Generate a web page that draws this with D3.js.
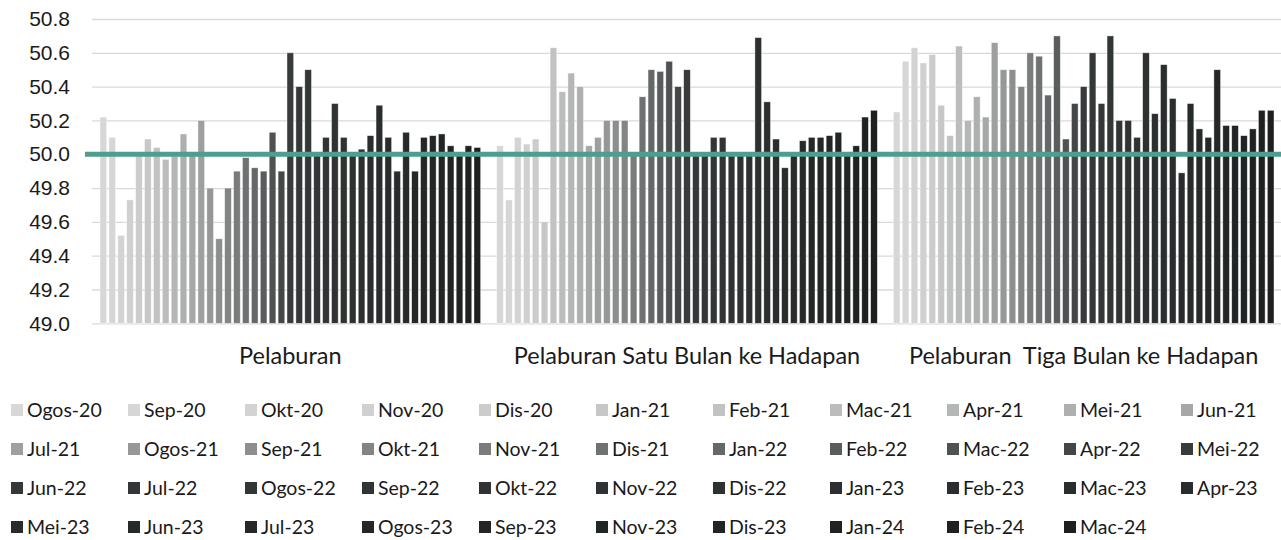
<!DOCTYPE html>
<html>
<head>
<meta charset="utf-8">
<script src="https://cdn.jsdelivr.net/npm/d3@7"></script>
<style>
  body { margin: 0; background: #fff; }
  svg { display: block; }
  .tick text { font-family: "Liberation Sans", Arial, sans-serif; }
</style>
</head>
<body>
<div id="chart"></div>
<script>
var categories = ["Pelaburan", "Pelaburan Satu Bulan ke Hadapan", "Pelaburan  Tiga Bulan ke Hadapan"];

var months = ["Ogos-20","Sep-20","Okt-20","Nov-20","Dis-20","Jan-21","Feb-21","Mac-21","Apr-21","Mei-21","Jun-21",
  "Jul-21","Ogos-21","Sep-21","Okt-21","Nov-21","Dis-21","Jan-22","Feb-22","Mac-22","Apr-22","Mei-22",
  "Jun-22","Jul-22","Ogos-22","Sep-22","Okt-22","Nov-22","Dis-22","Jan-23","Feb-23","Mac-23","Apr-23",
  "Mei-23","Jun-23","Jul-23","Ogos-23","Sep-23","Nov-23","Dis-23","Jan-24","Feb-24","Mac-24"];

// one value per month, for each category
var pelaburan = [50.22,50.10,49.52,49.73,50.01,50.09,50.04,49.97,49.99,50.12,50.01,
  50.20,49.80,49.50,49.80,49.90,49.98,49.92,49.90,50.13,49.90,50.60,
  50.40,50.50,50.01,50.10,50.30,50.10,50.01,50.03,50.11,50.29,50.10,
  49.90,50.13,49.90,50.10,50.11,50.12,50.05,50.01,50.05,50.04];

var satuBulan = [50.05,49.73,50.10,50.06,50.09,49.60,50.63,50.37,50.48,50.40,50.05,
  50.10,50.20,50.20,50.20,50.01,50.34,50.50,50.49,50.55,50.40,50.50,
  50.01,50.01,50.10,50.10,50.01,50.01,50.01,50.69,50.31,50.09,49.92,
  50.01,50.08,50.10,50.10,50.11,50.13,50.01,50.05,50.22,50.26];

var tigaBulan = [50.25,50.55,50.63,50.54,50.59,50.29,50.11,50.64,50.20,50.34,50.22,
  50.66,50.50,50.50,50.40,50.60,50.58,50.35,50.70,50.09,50.30,50.40,
  50.60,50.30,50.70,50.20,50.20,50.10,50.60,50.24,50.53,50.33,49.89,
  50.30,50.15,50.10,50.50,50.17,50.17,50.11,50.15,50.26,50.26];

var yTicks = [49.0,49.2,49.4,49.6,49.8,50.0,50.2,50.4,50.6,50.8];
var threshold = 50.0;

var seriesByCat = [pelaburan, satuBulan, tigaBulan];

var width = 1281, height = 540;
var plotLeft = 92, plotRight = 1282, plotTop = 19, plotBottom = 323.3;

var svg = d3.select("#chart").append("svg")
    .attr("width", width)
    .attr("height", height);

var y = d3.scaleLinear()
    .domain([49.0, 50.8])
    .range([plotBottom, plotTop]);

var x0 = d3.scaleBand()
    .domain(categories)
    .range([plotLeft, plotRight]);

var x1 = d3.scaleBand()
    .domain(months)
    .range([8, x0.bandwidth() - 8])
    .paddingInner(0.25)
    .paddingOuter(0);

// grey ramp: stays light early, darkens fast up to Mei-22, then dark to near black
var ramp1 = d3.interpolateRgb("#d7d7d7", "#373b3b");
var ramp2 = d3.interpolateRgb("#343838", "#1e2020");
function colour(i) {
  return i <= 21 ? ramp1(Math.pow(i / 21, 1.6)) : ramp2((i - 22) / 20);
}

// gridlines
var yAxis = d3.axisLeft(y)
    .tickValues(yTicks)
    .tickFormat(d3.format(".1f"))
    .tickSize(-(plotRight - plotLeft))
    .tickPadding(22);

var gy = svg.append("g")
    .attr("transform", "translate(" + plotLeft + ",0)")
    .call(yAxis);
gy.select(".domain").remove();
gy.selectAll(".tick line").attr("stroke", "#d9d9d9").attr("stroke-width", 1.3);
gy.selectAll(".tick text")
    .attr("fill", "#1a1a1a")
    .style("font-size", "21px");

// bars
var groups = svg.selectAll("g.cat")
    .data(categories)
    .enter()
    .append("g")
    .attr("class", "cat")
    .attr("transform", function(d) { return "translate(" + x0(d) + ",0)"; });

groups.selectAll("rect")
    .data(function(d, ci) {
      return months.map(function(m, i) { return {month: m, idx: i, value: seriesByCat[ci][i]}; });
    })
    .enter()
    .append("rect")
    .attr("x", function(d) { return x1(d.month); })
    .attr("width", x1.bandwidth())
    .attr("y", function(d) { return y(d.value); })
    .attr("height", function(d) { return plotBottom - y(d.value); })
    .attr("fill", function(d) { return colour(d.idx); })
    .attr("stroke", "#ffffff")
    .attr("stroke-opacity", 0.6)
    .attr("stroke-width", 0.7);

// 50.0 threshold line
svg.append("line")
    .attr("x1", 85)
    .attr("x2", width)
    .attr("y1", y(threshold))
    .attr("y2", y(threshold))
    .attr("stroke", "#4e9d8f")
    .attr("stroke-width", 5);

// category labels
svg.selectAll("text.catlabel")
    .data(categories)
    .enter()
    .append("text")
    .attr("class", "catlabel")
    .attr("x", function(d) { return x0(d) + x0.bandwidth() / 2; })
    .attr("y", 364)
    .attr("text-anchor", "middle")
    .style("font-family", "Lato, 'Noto Sans', sans-serif")
    .style("font-size", "23.5px")
    .style("white-space", "pre")
    .attr("fill", "#1a1a1a")
    .text(function(d) { return d; });

// legend
var perRow = 11, colW = 117, rowH = 39, legX = 11, legY = 410;
var leg = svg.selectAll("g.leg")
    .data(months)
    .enter()
    .append("g")
    .attr("class", "leg")
    .attr("transform", function(d, i) {
      return "translate(" + (legX + (i % perRow) * colW) + "," + (legY + Math.floor(i / perRow) * rowH) + ")";
    });

leg.append("rect")
    .attr("x", 0)
    .attr("y", -6)
    .attr("width", 12)
    .attr("height", 12)
    .attr("fill", function(d, i) { return colour(i); });

leg.append("text")
    .attr("x", 16)
    .attr("y", 0)
    .attr("dy", ".35em")
    .style("font-family", "Lato, 'Noto Sans', sans-serif")
    .style("font-size", "19.5px")
    .attr("fill", "#1a1a1a")
    .text(function(d) { return d; });
</script>
</body>
</html>
